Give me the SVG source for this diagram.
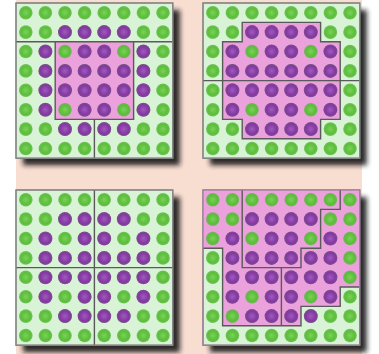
<svg xmlns="http://www.w3.org/2000/svg" xmlns:xlink="http://www.w3.org/1999/xlink" width="379" height="354" viewBox="0 0 379 354">
<style>
.panel{fill:#d9f3d6;stroke:#858585;stroke-width:1.2}
.pink{fill:#eba2dc}
.div{fill:none;stroke:#5a5a5a;stroke-width:1.4}
.shadow{fill:#151515;opacity:0.9;filter:url(#blur)}
</style>
<defs>
<filter id="blur" x="-10%" y="-10%" width="130%" height="130%"><feGaussianBlur stdDeviation="2.8"/></filter>
<radialGradient id="gg"><stop offset="0" stop-color="#7ad257"/><stop offset="0.7" stop-color="#5cbd3b"/><stop offset="1" stop-color="#59b83e" stop-opacity="0.8"/></radialGradient>
<radialGradient id="pg"><stop offset="0" stop-color="#a05abd"/><stop offset="0.7" stop-color="#8438a2"/><stop offset="1" stop-color="#80399c" stop-opacity="0.85"/></radialGradient>
<g id="grow">
<circle cx="9.8" cy="0" r="6.8" fill="url(#gg)"/><circle cx="29.4" cy="0" r="6.8" fill="url(#gg)"/><circle cx="49" cy="0" r="6.8" fill="url(#gg)"/><circle cx="68.6" cy="0" r="6.8" fill="url(#gg)"/><circle cx="88.2" cy="0" r="6.8" fill="url(#gg)"/><circle cx="107.8" cy="0" r="6.8" fill="url(#gg)"/><circle cx="127.4" cy="0" r="6.8" fill="url(#gg)"/><circle cx="147" cy="0" r="6.8" fill="url(#gg)"/>
</g>
<g id="dots">
<use xlink:href="#grow" y="9.7"/><use xlink:href="#grow" y="29.1"/><use xlink:href="#grow" y="48.5"/><use xlink:href="#grow" y="67.9"/><use xlink:href="#grow" y="87.3"/><use xlink:href="#grow" y="106.7"/><use xlink:href="#grow" y="126.1"/><use xlink:href="#grow" y="145.5"/>
<g fill="url(#pg)">
<circle cx="49" cy="29.1" r="7"/><circle cx="68.6" cy="29.1" r="7"/><circle cx="88.2" cy="29.1" r="7"/><circle cx="107.8" cy="29.1" r="7"/>
<circle cx="29.4" cy="48.5" r="7"/><circle cx="68.6" cy="48.5" r="7"/><circle cx="88.2" cy="48.5" r="7"/><circle cx="127.4" cy="48.5" r="7"/>
<circle cx="29.4" cy="67.9" r="7"/><circle cx="49" cy="67.9" r="7"/><circle cx="68.6" cy="67.9" r="7"/><circle cx="88.2" cy="67.9" r="7"/><circle cx="107.8" cy="67.9" r="7"/><circle cx="127.4" cy="67.9" r="7"/>
<circle cx="29.4" cy="87.3" r="7"/><circle cx="49" cy="87.3" r="7"/><circle cx="68.6" cy="87.3" r="7"/><circle cx="88.2" cy="87.3" r="7"/><circle cx="107.8" cy="87.3" r="7"/><circle cx="127.4" cy="87.3" r="7"/>
<circle cx="29.4" cy="106.7" r="7"/><circle cx="68.6" cy="106.7" r="7"/><circle cx="88.2" cy="106.7" r="7"/><circle cx="127.4" cy="106.7" r="7"/>
<circle cx="49" cy="126.1" r="7"/><circle cx="68.6" cy="126.1" r="7"/><circle cx="88.2" cy="126.1" r="7"/><circle cx="107.8" cy="126.1" r="7"/>
</g>
</g>
</defs>
<rect width="379" height="354" fill="#ffffff"/>
<rect x="16" y="0" width="346" height="354" fill="#f8ddd1"/>

<g id="panel1" transform="translate(16,3)">
<rect class="shadow" x="7" y="7" width="156.8" height="155.2"/>
<rect class="panel" x="0" y="0" width="156.8" height="155.2"/>
<rect class="pink" x="39.2" y="38.8" width="78.4" height="77.6"/>
<use xlink:href="#dots"/>
<path class="div" d="M0,38.8H156.8M39.2,38.8V116.4H117.6V38.8M78.4,116.4V155.2"/>
<rect x="0" y="0" width="156.8" height="155.2" fill="none" stroke="#858585" stroke-width="1.2"/>
</g>

<g id="panel2" transform="translate(203,3)">
<rect class="shadow" x="7" y="7" width="156.8" height="155.2"/>
<rect class="panel" x="0" y="0" width="156.8" height="155.2"/>
<path class="pink" d="M39.2,19.4H117.6V38.8H137.2V116.4H117.6V135.8H39.2V116.4H19.6V38.8H39.2Z"/>
<use xlink:href="#dots"/>
<path class="div" d="M39.2,19.4H117.6V38.8H137.2V116.4H117.6V135.8H39.2V116.4H19.6V38.8H39.2Z M0,77.6H156.8"/>
<rect x="0" y="0" width="156.8" height="155.2" fill="none" stroke="#858585" stroke-width="1.2"/>
</g>

<g id="panel3" transform="translate(16,190)">
<rect class="shadow" x="7" y="7" width="156.8" height="155.2"/>
<rect class="panel" x="0" y="0" width="156.8" height="155.2"/>
<use xlink:href="#dots"/>
<path class="div" d="M78.4,0V155.2M0,77.6H156.8"/>
<rect x="0" y="0" width="156.8" height="155.2" fill="none" stroke="#858585" stroke-width="1.2"/>
</g>

<g id="panel4" transform="translate(203,190)">
<rect class="shadow" x="7" y="7" width="156.8" height="155.2"/>
<rect class="panel" x="0" y="0" width="156.8" height="155.2"/>
<path class="pink" d="M0,0H156.8V97H137.2V116.4H98V135.8H19.6V58.2H0Z"/>
<use xlink:href="#dots"/>
<path class="div" d="M156.8,97H137.2V116.4H98V135.8H19.6V58.2H0 M39.2,0V77.6H98V58.2H117.6V19.4H137.2V0 M78.4,77.6V135.8"/>
<rect x="0" y="0" width="156.8" height="155.2" fill="none" stroke="#9a7a98" stroke-width="1.2"/>
</g>
</svg>
